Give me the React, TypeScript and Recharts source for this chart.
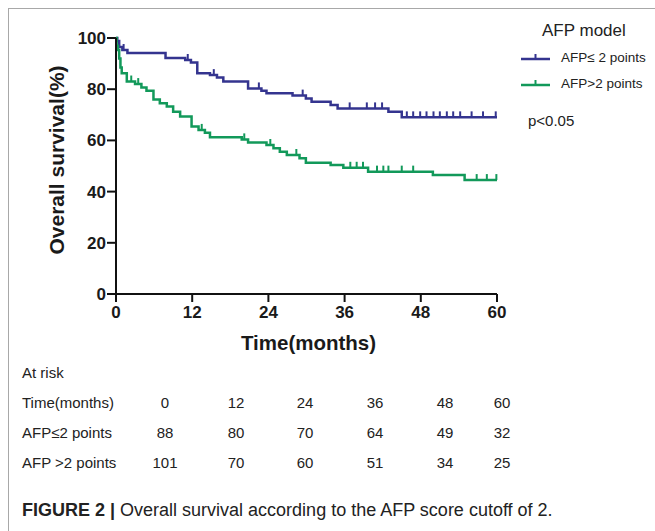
import React from "react";
import { LineChart, Line, XAxis, YAxis } from "recharts";

// Kaplan-Meier steps: [month, survival %]
const lowSteps: [number, number][] = [
  [0, 100], [0.2, 98.8], [0.5, 96.5], [1.0, 95.3], [1.8, 94.1],
  [7.8, 92.2], [10.9, 91.4], [11.8, 90.4], [12.8, 86.2], [14.8, 85.5],
  [15.9, 84.6], [16.9, 83.0], [20.8, 80.3], [22.9, 79.4], [23.7, 78.4],
  [27.8, 77.5], [29.9, 76.4], [30.8, 75.1], [33.8, 73.8], [34.9, 72.5],
  [42.9, 71.2], [45.0, 69.0],
];
const lowCensored = [
  1.2, 11.3, 15.4, 22.5, 29.4, 36.8, 39.5, 40.8, 41.9, 45.8, 46.8, 47.9,
  48.9, 50.0, 51.0, 52.1, 53.1, 54.2, 56.0, 57.8, 59.8,
];

const highSteps: [number, number][] = [
  [0, 100], [0.1, 97.0], [0.3, 95.3], [0.5, 92.0], [0.7, 88.5], [0.9, 86.2],
  [1.7, 83.0], [3.0, 82.0], [4.0, 80.7], [4.8, 79.4], [5.9, 76.0],
  [6.9, 74.5], [8.0, 73.2], [9.0, 71.2], [10.1, 69.3], [11.9, 65.4],
  [13.0, 64.1], [14.0, 63.0], [14.8, 61.2], [19.8, 60.4], [20.8, 59.2],
  [23.7, 58.2], [24.8, 56.9], [25.8, 55.6], [26.9, 54.3], [28.9, 53.0],
  [29.9, 51.3], [33.8, 50.4], [35.8, 49.3], [39.7, 47.8], [49.9, 46.5],
  [54.9, 44.5],
];
const highCensored = [
  2.4, 3.5, 13.5, 20.2, 24.3, 28.4, 36.9, 37.9, 38.9, 41.1, 42.1, 42.9,
  45.0, 46.8, 56.8, 58.4, 59.9,
];

const monthTicks = [0, 12, 24, 36, 48, 60];
const survTicks = [0, 20, 40, 60, 80, 100];
const riskLow = [88, 80, 70, 64, 49, 32];
const riskHigh = [101, 70, 60, 51, 34, 25];
const riskCols = [165, 236, 305, 375, 445, 502];

const BLUE = "#34348f";
const GREEN = "#12995a";
const FONT = "'Liberation Sans', Arial, Helvetica, sans-serif";

type Pt = { t: number; s: number; c?: boolean };

function buildCurve(steps: [number, number][], censored: number[], end: number): Pt[] {
  const pts: Pt[] = steps.map(([t, s]) => ({ t, s }));
  censored.forEach((ct) => {
    let s = steps[0][1];
    steps.forEach(([t, v]) => {
      if (t <= ct) s = v;
    });
    pts.push({ t: ct, s, c: true });
  });
  pts.sort((a, b) => a.t - b.t);
  const last = pts[pts.length - 1];
  if (last.t < end) pts.push({ t: end, s: last.s });
  return pts;
}

const lowData = buildCurve(lowSteps, lowCensored, 60);
const highData = buildCurve(highSteps, highCensored, 60);

const censorDot = (color: string) => (props: any) => {
  const { cx, cy, payload, index } = props;
  if (!payload || !payload.c || cx == null) return <g key={`d-${index}`} />;
  return (
    <line key={`d-${index}`} x1={cx} x2={cx} y1={cy} y2={cy - 6} stroke={color} strokeWidth={2} />
  );
};

const tickStyle = { fontSize: 17, fontWeight: 700, fill: "#1a1a1a", fontFamily: FONT };

function LegendBox() {
  const row = (color: string, text: string) => (
    <div style={{ display: "flex", alignItems: "center", height: 26 }}>
      <svg width={30} height={14} style={{ marginRight: 10 }}>
        <line x1={0} x2={29} y1={9} y2={9} stroke={color} strokeWidth={2.5} />
        <line x1={14.5} x2={14.5} y1={4} y2={9} stroke={color} strokeWidth={2} />
      </svg>
      <span style={{ fontSize: 13.5 }}>{text}</span>
    </div>
  );
  return (
    <div style={{ position: "absolute", left: 521, top: 21, fontFamily: FONT, color: "#222", width: 140 }}>
      <div style={{ fontSize: 17, marginLeft: 21, marginBottom: 3 }}>AFP model</div>
      {row(BLUE, "AFP\u2264 2 points")}
      {row(GREEN, "AFP>2 points")}
      <div style={{ fontSize: 15, marginLeft: 7, marginTop: 16 }}>p&lt;0.05</div>
    </div>
  );
}

export default function App() {
  const cell: React.CSSProperties = { position: "absolute", fontSize: 15, color: "#222", fontFamily: FONT, whiteSpace: "nowrap" };
  const rowY = [373, 403, 433, 463];
  return (
    <div style={{ position: "absolute", left: 0, top: 0, width: 655, height: 531, background: "#fff", overflow: "hidden" }}>
      <div style={{ position: "absolute", left: 8, top: 8, width: 700, height: 600, borderLeft: "1px solid #a8a8a8", borderTop: "1px solid #a8a8a8" }} />
      <div style={{ position: "absolute", left: 0, top: 0 }}>
        <LineChart width={655} height={531} margin={{ top: 38, right: 158, bottom: 177, left: 0 }}>
          <XAxis
            type="number"
            dataKey="t"
            domain={[0, 60]}
            ticks={monthTicks}
            tick={tickStyle}
            tickSize={8}
            tickMargin={4}
            height={60}
            axisLine={{ stroke: "#111", strokeWidth: 2 }}
            tickLine={{ stroke: "#111", strokeWidth: 2 }}
            label={{
              content: (p: any) => (
                <text x={p.viewBox.x + p.viewBox.width / 2 + 2} y={p.viewBox.y + 56} textAnchor="middle" fontSize={20.5} fontWeight={700} fill="#1a1a1a" fontFamily={FONT}>
                  Time(months)
                </text>
              ),
            }}
          />
          <YAxis
            type="number"
            domain={[0, 100]}
            ticks={survTicks}
            tick={tickStyle}
            tickSize={9}
            tickMargin={1}
            width={116}
            axisLine={{ stroke: "#111", strokeWidth: 2 }}
            tickLine={{ stroke: "#111", strokeWidth: 2 }}
            label={{
              content: (p: any) => (
                <text transform={`translate(${p.viewBox.x + 64},${p.viewBox.y + p.viewBox.height / 2 - 6}) rotate(-90)`} textAnchor="middle" fontSize={21} fontWeight={700} fill="#1a1a1a" fontFamily={FONT}>
                  Overall survival(%)
                </text>
              ),
            }}
          />
          <Line data={lowData} dataKey="s" type="stepAfter" stroke={BLUE} strokeWidth={2.5} dot={censorDot(BLUE)} activeDot={false} isAnimationActive={false} legendType="none" />
          <Line data={highData} dataKey="s" type="stepAfter" stroke={GREEN} strokeWidth={2.5} dot={censorDot(GREEN)} activeDot={false} isAnimationActive={false} legendType="none" />
        </LineChart>
      </div>
      <LegendBox />
      <div style={{ ...cell, left: 22, top: rowY[0] - 9 }}>At risk</div>
      <div style={{ ...cell, left: 22, top: rowY[1] - 9 }}>Time(months)</div>
      <div style={{ ...cell, left: 22, top: rowY[2] - 9 }}>AFP{"\u2264"}2 points</div>
      <div style={{ ...cell, left: 22, top: rowY[3] - 9 }}>AFP &gt;2 points</div>
      {monthTicks.map((m, i) => (
        <div key={`m${i}`} style={{ ...cell, left: riskCols[i], top: rowY[1] - 9, transform: "translateX(-50%)" }}>{m}</div>
      ))}
      {riskLow.map((v, i) => (
        <div key={`l${i}`} style={{ ...cell, left: riskCols[i], top: rowY[2] - 9, transform: "translateX(-50%)" }}>{v}</div>
      ))}
      {riskHigh.map((v, i) => (
        <div key={`h${i}`} style={{ ...cell, left: riskCols[i], top: rowY[3] - 9, transform: "translateX(-50%)" }}>{v}</div>
      ))}
      <div style={{ position: "absolute", left: 22, top: 500, fontSize: 18, color: "#222", whiteSpace: "nowrap", fontFamily: "'Liberation Sans Narrow', 'Arial Narrow', " + FONT }}>
        <b>FIGURE 2 |</b> Overall survival according to the AFP score cutoff of 2.
      </div>
    </div>
  );
}
